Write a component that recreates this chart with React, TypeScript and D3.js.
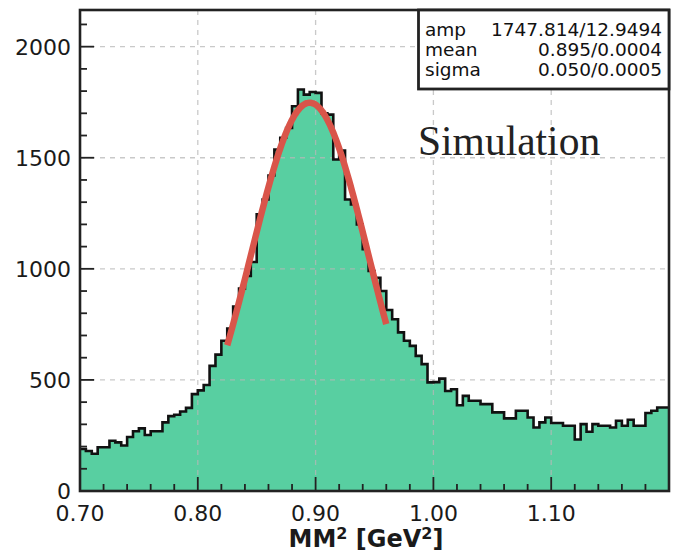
import React from "react";
import * as d3 from "d3";

// ---- data ----
const binStart = 0.7;
const binWidth = 0.005;
const counts = [
  189, 180, 168, 197, 197, 226, 219, 205, 243, 269,
  282, 252, 269, 269, 309, 337, 343, 358, 374, 436,
  453, 477, 563, 614, 676, 731, 830, 911, 968, 1031,
  1245, 1312, 1420, 1537, 1590, 1634, 1732, 1807, 1784, 1796,
  1792, 1700, 1694, 1492, 1532, 1312, 1290, 1200, 1088, 990,
  960, 900, 815, 773, 714, 676, 653, 608, 571, 489,
  490, 506, 450, 458, 386, 428, 406, 406, 391, 391,
  354, 354, 327, 327, 361, 361, 331, 286, 309, 331,
  306, 306, 294, 294, 232, 301, 267, 301, 294, 294,
  286, 316, 294, 321, 294, 294, 351, 361, 376, 376,
];
const xTickValues = [0.7, 0.8, 0.9, 1.0, 1.1];
const xTickLabels = ["0.70", "0.80", "0.90", "1.00", "1.10"];
const yTickValues = [0, 500, 1000, 1500, 2000];
const yTickLabels = ["0", "500", "1000", "1500", "2000"];
const fitAmp = 1747.814;
const fitMean = 0.895;
const fitSigma = 0.05;
const fitRange = [0.825, 0.96];
const statNames = ["amp", "mean", "sigma"];
const statValues = ["1747.814/12.9494", "0.895/0.0004", "0.050/0.0005"];

// ---- layout ----
const W = 678;
const H = 552;
const L = 80;
const R = 669;
const T = 10;
const B = 491;
const FONT = "DejaVu Sans, Verdana, sans-serif";

export default function App() {
  const x = d3.scaleLinear().domain([0.7, 1.2]).range([L, R]);
  const y = d3.scaleLinear().domain([0, 2165]).range([B, T]);

  const pts: [number, number][] = counts.map((c, i) => [binStart + i * binWidth, c]);
  pts.push([binStart + counts.length * binWidth, counts[counts.length - 1]]);

  const area = d3
    .area<[number, number]>()
    .x((d) => x(d[0]))
    .y0(y(0))
    .y1((d) => y(d[1]))
    .curve(d3.curveStepAfter);
  const line = d3
    .line<[number, number]>()
    .x((d) => x(d[0]))
    .y((d) => y(d[1]))
    .curve(d3.curveStepAfter);

  const fitPts: [number, number][] = d3
    .range(0, 121)
    .map((k) => {
      const xv = fitRange[0] + ((fitRange[1] - fitRange[0]) * k) / 120;
      return [xv, fitAmp * Math.exp(-0.5 * ((xv - fitMean) / fitSigma) ** 2)];
    });
  const fitLine = d3
    .line<[number, number]>()
    .x((d) => x(d[0]))
    .y((d) => y(d[1]))
    .curve(d3.curveBasis);

  const xMinor = d3.range(0.72, 1.2, 0.02).filter((v) => Math.abs(Math.round(v * 10) - v * 10) > 1e-6);
  const yMinor = d3.range(100, 2165, 100).filter((v) => v % 500 !== 0);

  const gridColor = "#b8b8b8";

  return (
    <svg width={W} height={H} style={{ display: "block", position: "absolute", left: 0, top: 0 }}>
      <rect x={0} y={0} width={W} height={H} fill="#fff" />
      {/* histogram */}
      <path d={area(pts) || ""} fill="#58cfa1" />
      {/* grid */}
      <g stroke={gridColor} strokeWidth={1.3} strokeDasharray="5,5" opacity={0.75}>
        {xTickValues.slice(1).map((v) => (
          <line key={"gx" + v} x1={x(v)} x2={x(v)} y1={T} y2={B} />
        ))}
        {yTickValues.slice(1).map((v) => (
          <line key={"gy" + v} x1={L} x2={R} y1={y(v)} y2={y(v)} />
        ))}
      </g>
      <path d={line(pts) || ""} fill="none" stroke="#111" strokeWidth={2.6} />
      {/* fit */}
      <path d={fitLine(fitPts) || ""} fill="none" stroke="#d9554a" strokeWidth={6.5} strokeLinecap="butt" />
      {/* ticks */}
      <g stroke="#222" strokeWidth={1.8}>
        {xTickValues.map((v) => (
          <line key={"tx" + v} x1={x(v)} x2={x(v)} y1={B} y2={B - 14} />
        ))}
        {xMinor.map((v) => (
          <line key={"mx" + v} x1={x(v)} x2={x(v)} y1={B} y2={B - 7} />
        ))}
        {yTickValues.map((v) => (
          <line key={"ty" + v} x1={L} x2={L + 14} y1={y(v)} y2={y(v)} />
        ))}
        {yMinor.map((v) => (
          <line key={"my" + v} x1={L} x2={L + 7} y1={y(v)} y2={y(v)} />
        ))}
      </g>
      {/* frame */}
      <rect x={L} y={T} width={R - L} height={B - T} fill="none" stroke="#222" strokeWidth={2.6} />
      {/* tick labels */}
      <g fontFamily={FONT} fontSize={22} fill="#1a1a1a">
        {xTickValues.map((v, i) => (
          <text key={"lx" + v} x={x(v)} y={521} textAnchor="middle">
            {xTickLabels[i]}
          </text>
        ))}
        {yTickValues.map((v, i) => (
          <text key={"ly" + v} x={71} y={y(v)} dy="0.36em" textAnchor="end">
            {yTickLabels[i]}
          </text>
        ))}
      </g>
      {/* axis title */}
      <text x={366} y={547} textAnchor="middle" fontFamily={FONT} fontWeight="bold" fontSize={24} fill="#1a1a1a">
        MM
        <tspan dy={-8} fontSize={16}>2</tspan>
        <tspan dy={8}> [GeV</tspan>
        <tspan dy={-8} fontSize={16}>2</tspan>
        <tspan dy={8}>]</tspan>
      </text>
      {/* Simulation label */}
      <text x={418} y={155} fontFamily="Liberation Serif, Times New Roman, serif" fontSize={41.5} fill="#222">
        Simulation
      </text>
      {/* stats box */}
      <rect x={418.5} y={T} width={R - 418.5} height={79} fill="#fff" stroke="#222" strokeWidth={2.8} />
      <g fontFamily={FONT} fontSize={18.5} fill="#111">
        {statNames.map((n, i) => (
          <g key={n}>
            <text x={425} y={36 + i * 20}>{n}</text>
            <text x={662} y={36 + i * 20} textAnchor="end">
              {statValues[i]}
            </text>
          </g>
        ))}
      </g>
    </svg>
  );
}
